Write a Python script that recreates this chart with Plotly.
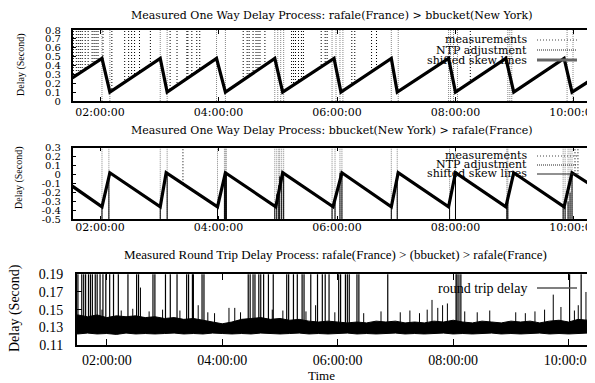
import plotly.graph_objects as go

DAY = "2000-01-01 "

def ts(t):
    return DAY + (t if len(t) > 5 else t + ":00")

# ---------------- Panel 1: rafale(France) > bbucket(New York) ----------------
ow1_times = ["01:32", "02:02", "02:10", "03:01", "03:08", "03:58", "04:07", "04:57", "05:05",
             "05:57", "06:04", "06:55", "07:01", "07:53", "08:00", "08:51", "08:59", "09:50",
             "09:58", "10:19"]
ow1_delay = [0.26, 0.48, 0.10, 0.48, 0.10, 0.48, 0.10, 0.48, 0.10,
             0.48, 0.10, 0.48, 0.10, 0.48, 0.10, 0.48, 0.10, 0.48,
             0.10, 0.25]
ow1_spike_times = ["01:33", "01:36", "01:38", "01:40", "01:42", "01:45", "01:48", "01:52", "01:54",
                   "01:56", "01:58", "02:03", "02:12", "02:25", "02:29", "02:32", "02:35", "02:40",
                   "02:51", "03:11", "03:18", "03:28", "03:29", "03:33", "03:38", "03:41", "04:25",
                   "04:29", "04:31", "04:35", "04:38", "04:40", "04:42", "04:47", "05:14", "05:16",
                   "05:18", "05:21", "05:24", "05:26", "05:44", "05:48", "05:50", "06:15", "06:18",
                   "06:35", "06:40", "08:15"]
ow1_ntp_times = ["02:02", "02:10", "03:01", "03:08", "03:58", "04:07", "04:57", "05:00", "05:03",
                 "05:06", "05:55", "05:59", "06:03", "06:06", "06:55", "07:02", "07:53", "07:55",
                 "07:58", "08:02", "08:53", "08:55", "08:57", "09:53", "09:59"]

# ---------------- Panel 2: bbucket(New York) > rafale(France) ----------------
ow2_times = ["01:32", "02:02", "02:10", "03:01", "03:07", "03:59", "04:07", "04:58", "05:05",
             "05:56", "06:05", "06:55", "07:02", "07:53", "08:00", "08:51", "08:59", "09:50",
             "09:58", "10:19"]
ow2_delay = [-0.13, -0.36, 0.02, -0.36, 0.02, -0.36, 0.02, -0.36, 0.02,
             -0.36, 0.02, -0.36, 0.02, -0.36, 0.02, -0.36, 0.02, -0.36,
             0.02, -0.13]
ow2_spike_times = ["03:24", "10:01", "10:04"]
ow2_ntp_times = ["02:02", "02:09", "03:01", "03:08", "03:59", "04:06", "04:07", "04:08", "04:57",
                 "04:59", "05:01", "05:02", "05:04", "05:06", "05:55", "05:58", "06:03", "06:05",
                 "06:55", "07:01", "07:54", "08:00", "08:52", "08:53", "09:49", "09:51", "09:54",
                 "09:56", "09:58"]
ow2_ntp_level = [-0.36, 0.02, -0.36, 0.02, -0.36, 0.02, 0.02, 0.02, -0.36,
                 -0.22, -0.12, -0.02, 0.02, 0.02, -0.36, -0.28, 0.02, 0.02,
                 -0.36, 0.02, -0.36, 0.02, -0.36, -0.30, -0.36, -0.36, -0.30,
                 -0.20, 0.02]
ow2_yticks = [0.3, 0.2, 0.1, 0, -0.1, -0.2, -0.3, -0.4, -0.5]
ow2_yticktext = ["0.3", "0.2", "0.1", "0", "-0.1", "-0.2", "-0.3", "-0.4", "-0.5"]

# ---------------- Panel 3: round trip delay ----------------
rtt_band_times = ["01:20", "01:30", "01:40", "01:50", "02:00", "02:10", "02:20", "02:30", "02:40",
                  "02:50", "03:00", "03:10", "03:20", "03:30", "03:40", "03:50", "04:00", "04:10",
                  "04:20", "04:30", "04:40", "04:50", "05:00", "05:10", "05:20", "05:30", "05:40",
                  "05:50", "06:00", "06:10", "06:20", "06:30", "06:40", "06:50", "07:00", "07:10",
                  "07:20", "07:30", "07:40", "07:50", "08:00", "08:10", "08:20", "08:30", "08:40",
                  "08:50", "09:00", "09:10", "09:20", "09:30", "09:40", "09:50", "10:00", "10:10",
                  "10:20", "10:30"]
rtt_band_high = [0.143, 0.144, 0.142, 0.144, 0.141, 0.143, 0.142, 0.143, 0.141,
                 0.142, 0.140, 0.141, 0.139, 0.140, 0.138, 0.136, 0.134, 0.136,
                 0.139, 0.140, 0.141, 0.139, 0.140, 0.138, 0.139, 0.137, 0.136,
                 0.137, 0.136, 0.135, 0.136, 0.135, 0.137, 0.136, 0.137, 0.135,
                 0.136, 0.135, 0.137, 0.136, 0.138, 0.136, 0.135, 0.137, 0.136,
                 0.135, 0.137, 0.136, 0.137, 0.135, 0.137, 0.138, 0.136, 0.139,
                 0.138, 0.139]
rtt_band_low = [0.1230, 0.1225, 0.1235, 0.1225, 0.1230, 0.1220, 0.1235, 0.1225, 0.1230,
                0.1225, 0.1230, 0.1235, 0.1225, 0.1230, 0.1225, 0.1235, 0.1230, 0.1225,
                0.1230, 0.1225, 0.1235, 0.1230, 0.1225, 0.1230, 0.1235, 0.1225, 0.1230,
                0.1225, 0.1230, 0.1235, 0.1225, 0.1230, 0.1225, 0.1230, 0.1235, 0.1225,
                0.1230, 0.1225, 0.1230, 0.1235, 0.1225, 0.1230, 0.1225, 0.1230, 0.1235,
                0.1225, 0.1230, 0.1225, 0.1230, 0.1235, 0.1225, 0.1230, 0.1225, 0.1230,
                0.1235, 0.1230]
rtt_spike_times = ["01:30", "01:34", "01:36", "01:38", "01:41", "01:43", "01:45", "01:48", "01:50",
                   "01:53", "01:56", "01:59", "02:03", "02:07", "02:12", "02:22", "02:31", "02:33",
                   "02:48", "02:50", "03:01", "03:06", "03:13", "03:23", "03:25", "03:29", "03:30",
                   "03:39", "03:41", "04:27", "04:29", "04:32", "04:34", "04:38", "04:40", "04:43",
                   "04:48", "04:53", "05:07", "05:09", "05:14", "05:18", "05:23", "05:25", "05:32",
                   "05:39", "05:44", "05:47", "05:51", "06:01", "06:03", "06:08", "06:10", "06:12",
                   "06:20", "06:22", "06:52", "08:03", "08:04", "08:06", "08:08", "10:01", "10:13"]
rtt_peak_times = ["01:55", "02:15", "02:27", "02:35", "02:44", "02:58", "03:16", "03:35", "03:45",
                  "03:52", "04:07", "04:13", "04:19", "04:52", "05:03", "05:27", "05:37", "05:57",
                  "06:27", "06:45", "07:05", "07:15", "07:25", "07:33", "07:38", "07:44", "07:49",
                  "07:54", "08:12", "08:25", "08:38", "09:05", "09:15", "09:25", "09:35", "09:44",
                  "09:52", "10:06", "10:10", "10:18", "10:21", "10:24"]
rtt_peak_delay = [0.150, 0.149, 0.151, 0.175, 0.148, 0.150, 0.149, 0.155, 0.147,
                  0.146, 0.152, 0.152, 0.147, 0.150, 0.149, 0.148, 0.155, 0.147,
                  0.146, 0.148, 0.147, 0.149, 0.146, 0.150, 0.161, 0.152, 0.155,
                  0.157, 0.148, 0.147, 0.149, 0.147, 0.146, 0.148, 0.150, 0.167,
                  0.153, 0.149, 0.155, 0.170, 0.165, 0.172]

# ---------------- helpers ----------------
def vlines(times, y0, y1):
    xs, ys = [], []
    for t in times:
        xs += [ts(t), ts(t), None]
        ys += [y0, y1, None]
    return xs, ys

def vlines_var(times, y0, tops):
    xs, ys = [], []
    for t, v in zip(times, tops):
        xs += [ts(t), ts(t), None]
        ys += [y0, v, None]
    return xs, ys

SERIF_S = "DejaVu Serif"
SERIF_B = "Liberation Serif"
W, H = 595, 383
OFF = 8  # page body margin

def px_x(px):
    return (px - OFF) / W

def px_y(py):
    return 1 - (py - OFF) / H

fig = go.Figure()

R1 = [ts("01:32:21"), ts("10:19:15")]
R3 = [ts("01:28:44"), ts("10:28:26")]

MEAS = dict(color="#000", width=1, dash="1px,2px")
NTP = dict(color="#888", width=1, dash="1px,1px")

# Panel 1 traces
x, y = vlines(ow1_spike_times, 0, 1.0)
fig.add_trace(go.Scatter(x=x, y=y, mode="lines", line=MEAS, xaxis="x", yaxis="y", hoverinfo="skip"))
fig.add_trace(go.Scatter(x=[ts(t) for t in ow1_times], y=ow1_delay, mode="lines",
                         line=dict(width=0), fill="tozeroy", fillcolor="white",
                         xaxis="x", yaxis="y", hoverinfo="skip"))
x, y = vlines(ow1_ntp_times, 0, 1.0)
fig.add_trace(go.Scatter(x=x, y=y, mode="lines", line=NTP, xaxis="x", yaxis="y", hoverinfo="skip"))
fig.add_trace(go.Scatter(x=[ts(t) for t in ow1_times], y=ow1_delay, mode="lines",
                         line=dict(color="black", width=3.2), xaxis="x", yaxis="y"))

# Panel 2 traces
x, y = vlines(ow2_spike_times, -0.6, 0.4)
fig.add_trace(go.Scatter(x=x, y=y, mode="lines", line=MEAS, xaxis="x2", yaxis="y2", hoverinfo="skip"))
fig.add_trace(go.Scatter(x=R1, y=[-0.6, -0.6], mode="lines", line=dict(width=0),
                         xaxis="x2", yaxis="y2", hoverinfo="skip"))
fig.add_trace(go.Scatter(x=[ts(t) for t in ow2_times], y=ow2_delay, mode="lines",
                         line=dict(width=0), fill="tonexty", fillcolor="white",
                         xaxis="x2", yaxis="y2", hoverinfo="skip"))
x, y = vlines(ow2_ntp_times, -0.6, 0.4)
fig.add_trace(go.Scatter(x=x, y=y, mode="lines", line=NTP, xaxis="x2", yaxis="y2", hoverinfo="skip"))
x, y = vlines_var(ow2_ntp_times, -0.6, ow2_ntp_level)
fig.add_trace(go.Scatter(x=x, y=y, mode="lines", line=dict(color="black", width=1),
                         xaxis="x2", yaxis="y2", hoverinfo="skip"))
fig.add_trace(go.Scatter(x=[ts(t) for t in ow2_times], y=ow2_delay, mode="lines",
                         line=dict(color="black", width=3.2), xaxis="x2", yaxis="y2"))

# Panel 3 traces
fig.add_trace(go.Scatter(x=[ts(t) for t in rtt_band_times], y=rtt_band_low, mode="lines",
                         line=dict(color="black", width=1), xaxis="x3", yaxis="y3", hoverinfo="skip"))
fig.add_trace(go.Scatter(x=[ts(t) for t in rtt_band_times], y=rtt_band_high, mode="lines",
                         line=dict(color="black", width=1), fill="tonexty", fillcolor="black",
                         xaxis="x3", yaxis="y3"))
x, y = vlines_var(rtt_peak_times, 0.13, rtt_peak_delay)
fig.add_trace(go.Scatter(x=x, y=y, mode="lines", line=dict(color="black", width=1),
                         xaxis="x3", yaxis="y3", hoverinfo="skip"))
x, y = vlines(rtt_spike_times, 0.13, 0.2)
fig.add_trace(go.Scatter(x=x, y=y, mode="lines", line=dict(color="black", width=1.2),
                         xaxis="x3", yaxis="y3", hoverinfo="skip"))

axis_common = dict(showline=True, linecolor="black", linewidth=1.5, mirror="ticks",
                   ticks="inside", tickcolor="black", showgrid=False, zeroline=False,
                   automargin=False)
xfmt = dict(type="date", tick0=ts("02:00"), dtick=7200000, tickformat="%H:%M:%S")

fig.update_layout(
    width=W, height=H, margin=dict(l=0, r=0, t=0, b=0, autoexpand=False),
    paper_bgcolor="white", plot_bgcolor="white", showlegend=False,
    xaxis=dict(**axis_common, **xfmt, domain=[px_x(72.7), px_x(593)], range=R1, anchor="y",
               ticklen=4, tickfont=dict(family=SERIF_S, size=11, color="black"), ticklabelstandoff=0),
    yaxis=dict(**axis_common, domain=[px_y(101), px_y(30)], range=[0, 0.8], dtick=0.1, anchor="x",
               ticklen=4, tickfont=dict(family=SERIF_S, size=10, color="black"), ticklabelstandoff=8),
    xaxis2=dict(**axis_common, **xfmt, domain=[px_x(72.7), px_x(593)], range=R1, anchor="y2",
                ticklen=4, tickfont=dict(family=SERIF_S, size=11, color="black"), ticklabelstandoff=-3),
    yaxis2=dict(**axis_common, domain=[px_y(219.3), px_y(147.7)], range=[-0.5, 0.3], anchor="x2",
                tickvals=ow2_yticks, ticktext=ow2_yticktext,
                ticklen=4, tickfont=dict(family=SERIF_S, size=10, color="black"), ticklabelstandoff=8),
    xaxis3=dict(**axis_common, **xfmt, domain=[px_x(76.7), px_x(596)], range=R3, anchor="y3",
                ticklen=6, tickfont=dict(family=SERIF_B, size=14, color="black"), ticklabelstandoff=1),
    yaxis3=dict(**axis_common, domain=[px_y(345), px_y(274.3)], range=[0.11, 0.19], tick0=0.11,
                dtick=0.02, anchor="x3", tickformat=".2f", ticklen=6,
                tickfont=dict(family=SERIF_B, size=14, color="black"), ticklabelstandoff=9),
)

annots = [
    dict(text="Measured One Way Delay Process: rafale(France) > bbucket(New York)",
         x=px_x(332), y=px_y(16), font=dict(family=SERIF_S, size=11)),
    dict(text="Measured One Way Delay Process: bbucket(New York) > rafale(France)",
         x=px_x(332), y=px_y(130), font=dict(family=SERIF_S, size=11)),
    dict(text="Measured Round Trip Delay Process: rafale(France) > (bbucket) > rafale(France)",
         x=px_x(335), y=px_y(254), font=dict(family=SERIF_B, size=13)),
    dict(text="Delay (Second)", x=px_x(21), y=px_y(65), textangle=-90,
         font=dict(family=SERIF_B, size=10)),
    dict(text="Delay (Second)", x=px_x(19), y=px_y(178), textangle=-90,
         font=dict(family=SERIF_B, size=10)),
    dict(text="Delay (Second)", x=px_x(15), y=px_y(308), textangle=-90,
         font=dict(family=SERIF_B, size=14)),
    dict(text="Time", x=px_x(321), y=px_y(375), font=dict(family=SERIF_B, size=13)),
]
legend_rows = [
    ("measurements", 40, dict(color="#444", width=1, dash="1px,2px"), SERIF_S, 11),
    ("NTP adjustment", 50, dict(color="#222", width=1, dash="1px,1px"), SERIF_S, 11),
    ("shifted skew lines", 60, dict(color="#666", width=3), SERIF_S, 11),
    ("measurements", 156, dict(color="#444", width=1, dash="1px,2px"), SERIF_S, 11),
    ("NTP adjustment", 165, dict(color="#222", width=1, dash="1px,1px"), SERIF_S, 11),
    ("shifted skew lines", 174, dict(color="#222", width=1), SERIF_S, 11),
    ("round trip delay", 288, dict(color="#555", width=1.5), SERIF_B, 14),
]
shapes = []
for text, yy, ln, fam, sz in legend_rows:
    annots.append(dict(text=text, x=px_x(529), y=px_y(yy), xanchor="right",
                       font=dict(family=fam, size=sz)))
    shapes.append(dict(type="line", xref="paper", yref="paper", x0=px_x(537), x1=px_x(577),
                       y0=px_y(yy), y1=px_y(yy), line=ln))
for a in annots:
    a.setdefault("xanchor", "center")
    a.update(xref="paper", yref="paper", showarrow=False, yanchor="middle")
    a["font"]["color"] = "black"
fig.update_layout(annotations=annots, shapes=shapes)

fig.write_html("out.html")
